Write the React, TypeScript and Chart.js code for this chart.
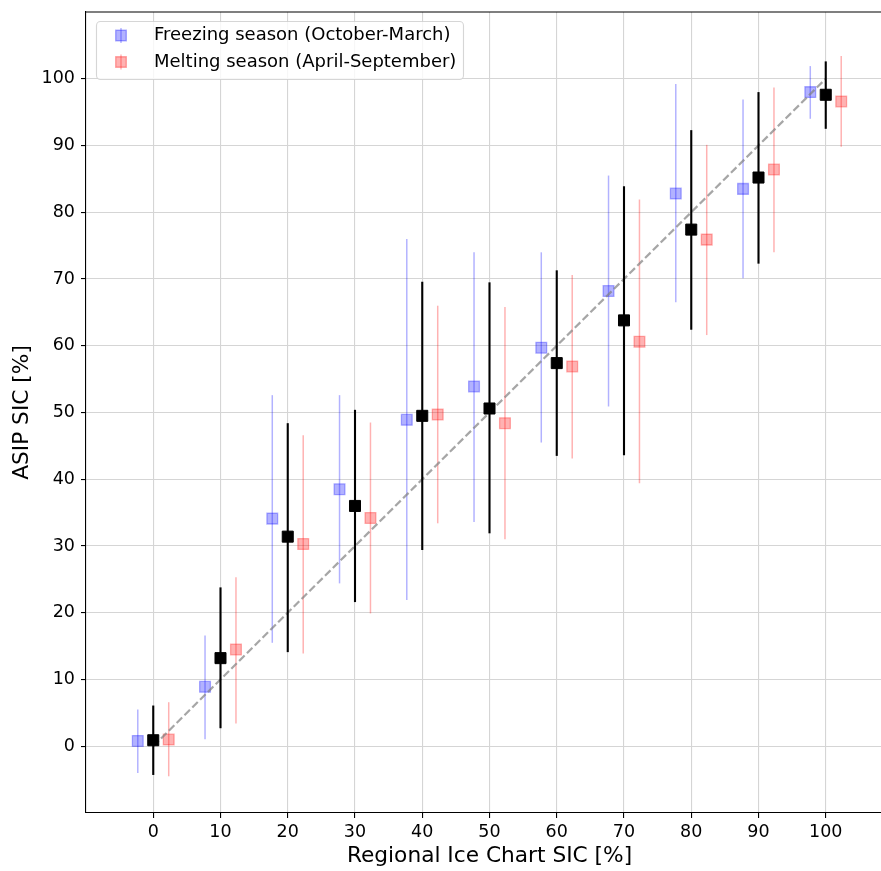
import React, { useEffect, useRef } from 'react';
import { Chart, registerables } from 'chart.js';

Chart.register(...registerables);

// ---------- data ----------
const categories = [0, 10, 20, 30, 40, 50, 60, 70, 80, 90, 100];
const seasonOffset = 2.3;

const freezeMean = [0.8, 8.9, 34.1, 38.5, 48.9, 53.9, 59.7, 68.2, 82.8, 83.5, 98.0];
const freezeLow = [-4.0, 1.05, 15.5, 24.4, 21.9, 33.6, 45.5, 50.9, 66.5, 70.1, 94.0];
const freezeHigh = [5.5, 16.6, 52.6, 52.6, 76.0, 74.0, 74.0, 85.5, 99.2, 96.9, 101.9];

const allMean = [0.9, 13.2, 31.4, 36.0, 49.5, 50.6, 57.4, 63.8, 77.4, 85.2, 97.6];
const allLow = [-4.3, 2.7, 14.1, 21.6, 29.4, 31.9, 43.5, 43.6, 62.4, 72.3, 92.5];
const allHigh = [6.1, 23.8, 48.4, 50.4, 69.6, 69.5, 71.3, 83.9, 92.3, 98.0, 102.6];

const meltMean = [1.0, 14.5, 30.3, 34.2, 49.7, 48.4, 56.9, 60.6, 75.9, 86.4, 96.6];
const meltLow = [-4.5, 3.4, 13.9, 19.9, 33.4, 31.0, 43.1, 39.4, 61.6, 74.0, 89.8];
const meltHigh = [6.6, 25.3, 46.6, 48.5, 66.0, 65.8, 70.6, 81.9, 90.1, 98.7, 103.4];

const identityLine = [0, 100];
const xTickValues = [0, 10, 20, 30, 40, 50, 60, 70, 80, 90, 100];
const yTickValues = [0, 10, 20, 30, 40, 50, 60, 70, 80, 90, 100];

const legendLabels = ['Freezing season (October-March)', 'Melting season (April-September)'];
const xTitle = 'Regional Ice Chart SIC [%]';
const yTitle = 'ASIP SIC [%]';

const BLUE = 'rgba(0,0,255,0.3)';
const RED = 'rgba(255,0,0,0.3)';
const FONT = "'DejaVu Sans', 'Liberation Sans', sans-serif";

const errorBarPlugin = {
  id: 'errbars',
  beforeDatasetDraw(chart: any, args: any) {
    const ds = chart.data.datasets[args.index];
    if (!ds.errLow) return;
    const { ctx, scales } = chart;
    const x = scales.x;
    const y = scales.y;
    const area = chart.chartArea;
    ctx.save();
    ctx.beginPath();
    ctx.rect(area.left, area.top, area.right - area.left, area.bottom - area.top);
    ctx.clip();
    ctx.strokeStyle = ds.errColor;
    ctx.lineWidth = ds.errWidth;
    ds.data.forEach((p: any, i: number) => {
      const px = x.getPixelForValue(p.x);
      ctx.beginPath();
      ctx.moveTo(px, y.getPixelForValue(ds.errLow[i]));
      ctx.lineTo(px, y.getPixelForValue(ds.errHigh[i]));
      ctx.stroke();
    });
    ctx.restore();
  },
};

const frameLegendPlugin = {
  id: 'frameLegend',
  afterDraw(chart: any) {
    const { ctx, chartArea: a } = chart;
    ctx.save();
    // top and right spines
    ctx.strokeStyle = '#000';
    ctx.lineWidth = 1.1;
    ctx.beginPath();
    ctx.moveTo(a.left, a.top);
    ctx.lineTo(a.right, a.top);
    ctx.lineTo(a.right, a.bottom);
    ctx.stroke();

    // legend box
    const bx = 96.5, by = 21.5, bw = 367, bh = 58;
    ctx.beginPath();
    ctx.roundRect(bx, by, bw, bh, 4);
    ctx.fillStyle = 'rgba(255,255,255,0.8)';
    ctx.fill();
    ctx.strokeStyle = 'rgba(204,204,204,0.8)';
    ctx.lineWidth = 1.1;
    ctx.stroke();

    const entries = [
      { color: BLUE, y: 35.5, label: legendLabels[0] },
      { color: RED, y: 62, label: legendLabels[1] },
    ];
    entries.forEach((e) => {
      const cx = 121;
      ctx.strokeStyle = e.color;
      ctx.lineWidth = 1.4;
      ctx.beginPath();
      ctx.moveTo(cx, e.y - 7.5);
      ctx.lineTo(cx, e.y + 7.5);
      ctx.stroke();
      ctx.fillStyle = e.color;
      ctx.beginPath();
      ctx.rect(cx - 5.3, e.y - 5.3, 10.6, 10.6);
      ctx.fill();
      ctx.stroke();
      ctx.fillStyle = '#000';
      ctx.font = `18px ${FONT}`;
      ctx.textBaseline = 'middle';
      ctx.textAlign = 'left';
      ctx.fillText(e.label, 154, e.y);
    });
    ctx.restore();
  },
};

export default function App() {
  const ref = useRef<HTMLCanvasElement | null>(null);

  useEffect(() => {
    if (!ref.current) return;
    const mk = (xs: number[], ys: number[]) => xs.map((v, i) => ({ x: v, y: ys[i] }));
    const chart = new Chart(ref.current, {
      type: 'scatter',
      data: {
        datasets: [
          {
            label: 'All',
            data: mk(categories, allMean),
            errLow: allLow,
            errHigh: allHigh,
            errColor: '#000',
            errWidth: 2.1,
            pointStyle: 'rect',
            pointRadius: 7.8,
            pointBackgroundColor: '#000',
            pointBorderColor: '#000',
            pointBorderWidth: 1,
            order: 0,
          } as any,
          {
            label: 'identity',
            data: mk(identityLine, identityLine),
            showLine: true,
            borderColor: 'rgba(128,128,128,0.7)',
            borderWidth: 2.2,
            borderDash: [7.7, 3.3],
            pointRadius: 0,
            order: 1,
          } as any,
          {
            label: legendLabels[1],
            data: mk(categories.map((c) => c + seasonOffset), meltMean),
            errLow: meltLow,
            errHigh: meltHigh,
            errColor: RED,
            errWidth: 1.5,
            pointStyle: 'rect',
            pointRadius: 7.6,
            pointBackgroundColor: RED,
            pointBorderColor: RED,
            pointBorderWidth: 1.3,
            order: 2,
          } as any,
          {
            label: legendLabels[0],
            data: mk(categories.map((c) => c - seasonOffset), freezeMean),
            errLow: freezeLow,
            errHigh: freezeHigh,
            errColor: BLUE,
            errWidth: 1.5,
            pointStyle: 'rect',
            pointRadius: 7.6,
            pointBackgroundColor: BLUE,
            pointBorderColor: BLUE,
            pointBorderWidth: 1.3,
            order: 3,
          } as any,
        ],
      },
      options: {
        responsive: false,
        animation: false,
        events: [],
        layout: { autoPadding: false, padding: { top: 12, right: 2, left: 0, bottom: 0 } },
        plugins: {
          legend: { display: false },
          tooltip: { enabled: false },
        },
        scales: {
          x: {
            type: 'linear',
            min: -10,
            max: 110,
            afterBuildTicks: (s: any) => {
              s.ticks = xTickValues.map((v) => ({ value: v }));
            },
            afterFit: (s: any) => {
              s.height = 58;
              s.paddingLeft = 0;
              s.paddingRight = 0;
            },
            grid: {
              color: '#d5d5d5',
              lineWidth: 1.1,
              tickColor: '#000',
              tickLength: 5,
              tickWidth: 1.1,
            },
            border: { color: '#000', width: 1.1 },
            ticks: {
              color: '#000',
              font: { family: FONT, size: 17.5 },
              padding: 4,
              maxRotation: 0,
              autoSkip: false,
            },
            title: {
              display: true,
              text: xTitle,
              color: '#000',
              font: { family: FONT, size: 21.7 },
              padding: { top: 0, bottom: 2 },
            },
          },
          y: {
            type: 'linear',
            min: -10,
            max: 110,
            afterBuildTicks: (s: any) => {
              s.ticks = yTickValues.map((v) => ({ value: v }));
            },
            afterFit: (s: any) => {
              s.width = 86;
              s.paddingTop = 0;
              s.paddingBottom = 0;
            },
            grid: {
              color: '#d5d5d5',
              lineWidth: 1.1,
              tickColor: '#000',
              tickLength: 5,
              tickWidth: 1.1,
            },
            border: { color: '#000', width: 1.1 },
            ticks: {
              color: '#000',
              font: { family: FONT, size: 17.5 },
              padding: 6,
              autoSkip: false,
            },
            title: {
              display: true,
              text: yTitle,
              color: '#000',
              font: { family: FONT, size: 21.7 },
              padding: { top: 9, bottom: 0 },
            },
          },
        },
      } as any,
      plugins: [errorBarPlugin, frameLegendPlugin],
    });
    return () => chart.destroy();
  }, []);

  return (
    <div
      style={{
        position: 'absolute',
        left: 0,
        top: 0,
        width: 881,
        height: 871,
        overflow: 'hidden',
        background: '#fff',
      }}
    >
      <canvas ref={ref} width={895} height={871} style={{ display: 'block', width: 895, height: 871 }} />
    </div>
  );
}
